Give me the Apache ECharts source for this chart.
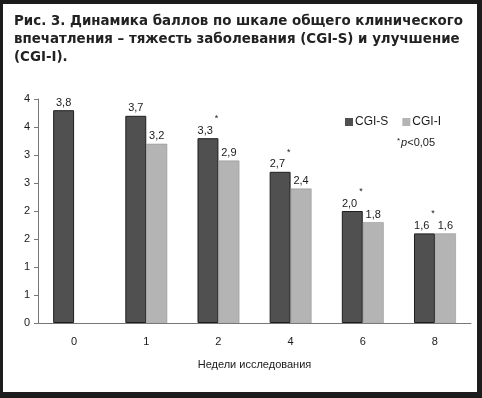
<!DOCTYPE html>
<html>
<head>
<meta charset="utf-8">
<script src="https://cdn.jsdelivr.net/npm/echarts@6/dist/echarts.min.js"></script>
<style>
  html, body { margin: 0; padding: 0; background: #fff; }
  #frame {
    width: 482px; height: 398px; box-sizing: border-box;
    border-style: solid; border-color: #1c1c1c;
    border-width: 4px 5px 6px 3px;
    position: relative; overflow: hidden;
  }
  #main { position: absolute; left: -3px; top: -4px; width: 482px; height: 398px; }
</style>
</head>
<body>
<div id="frame"><div id="main"></div></div>
<script>
// недели исследования
const weeks = ['0', '1', '2', '4', '6', '8'];
// CGI-S (тяжесть), CGI-I (улучшение)
const cgiS = [3.8, 3.7, 3.3, 2.7, 2.0, 1.6];
const cgiI = [null, 3.2, 2.9, 2.4, 1.8, 1.6];
// звёздочка p<0,05 над CGI-S
const signif = [false, false, true, true, true, true];

const fmt = v => v.toFixed(1).replace('.', ',');

const myChart = echarts.init(document.getElementById('main'));
const option = {
  backgroundColor: '#fff',
  animation: false,
  textStyle: { fontFamily: 'Liberation Sans, Arial, sans-serif', color: '#1a1a1a' },
  title: {
    text: 'Рис. 3. Динамика баллов по шкале общего клинического\nвпечатления – тяжесть заболевания (CGI-S) и улучшение\n(CGI-I).',
    left: 14,
    top: 13,
    padding: 0,
    textStyle: { fontFamily: 'DejaVu Sans', fontSize: 13.4, fontWeight: 'bold', lineHeight: 18, color: '#222' }
  },
  legend: {
    data: ['CGI-S', 'CGI-I'],
    left: 340,
    top: 111,
    itemWidth: 8,
    itemHeight: 8,
    itemGap: 14,
    icon: 'rect',
    itemStyle: { borderWidth: 0 },
    textStyle: { fontSize: 12, color: '#1a1a1a', padding: [0, 0, 0, -3] }
  },
  graphic: [{
    type: 'text',
    left: 397,
    top: 137,
    style: {
      text: '{s|*}{i|p}<0,05',
      font: '11px Liberation Sans',
      fill: '#1a1a1a',
      rich: {
        s: { fontSize: 8, verticalAlign: 'top', padding: [0, 1, 4, 0] },
        i: { fontStyle: 'italic', fontSize: 11 }
      }
    }
  }],
  grid: { left: 38, right: 11, top: 99, bottom: 75 },
  xAxis: {
    type: 'category',
    data: weeks,
    name: 'Недели исследования',
    nameLocation: 'middle',
    nameGap: 36,
    nameTextStyle: { fontSize: 11, color: '#1a1a1a' },
    axisLine: { lineStyle: { color: '#777', width: 1 } },
    axisTick: { length: 4, lineStyle: { color: '#777' } },
    axisLabel: { fontSize: 11, color: '#1a1a1a', margin: 13 }
  },
  yAxis: {
    type: 'value',
    min: 0,
    max: 4,
    interval: 0.5,
    splitLine: { show: false },
    axisLine: { show: true, lineStyle: { color: '#777', width: 1 } },
    axisTick: { show: true, length: 4, lineStyle: { color: '#777' } },
    axisLabel: { fontSize: 11, color: '#1a1a1a', margin: 8, formatter: v => String(Math.round(v)) }
  },
  series: [
    {
      name: 'CGI-S',
      type: 'bar',
      data: cgiS,
      barGap: '0%',
      barCategoryGap: '42%',
      itemStyle: { color: '#505050', borderColor: '#1e1e1e', borderWidth: 1 },
      label: {
        show: true,
        position: 'top',
        distance: 2,
        fontSize: 11,
        color: '#1a1a1a',
        formatter: p => signif[p.dataIndex] ? '{v|' + fmt(p.value) + '}{s|*}' : '{v|' + fmt(p.value) + '}',
        rich: {
          v: { fontSize: 11, verticalAlign: 'bottom', lineHeight: 13 },
          s: { fontSize: 9, verticalAlign: 'top', lineHeight: 22, padding: [0, 0, 0, 2] }
        }
      }
    },
    {
      name: 'CGI-I',
      type: 'bar',
      data: cgiI,
      itemStyle: { color: '#b4b4b4', borderColor: '#8a8a8a', borderWidth: 0.5 },
      label: {
        show: true,
        position: 'top',
        distance: 2,
        fontSize: 11,
        color: '#1a1a1a',
        formatter: p => fmt(p.value)
      }
    }
  ]
};
myChart.setOption(option);
</script>
</body>
</html>
